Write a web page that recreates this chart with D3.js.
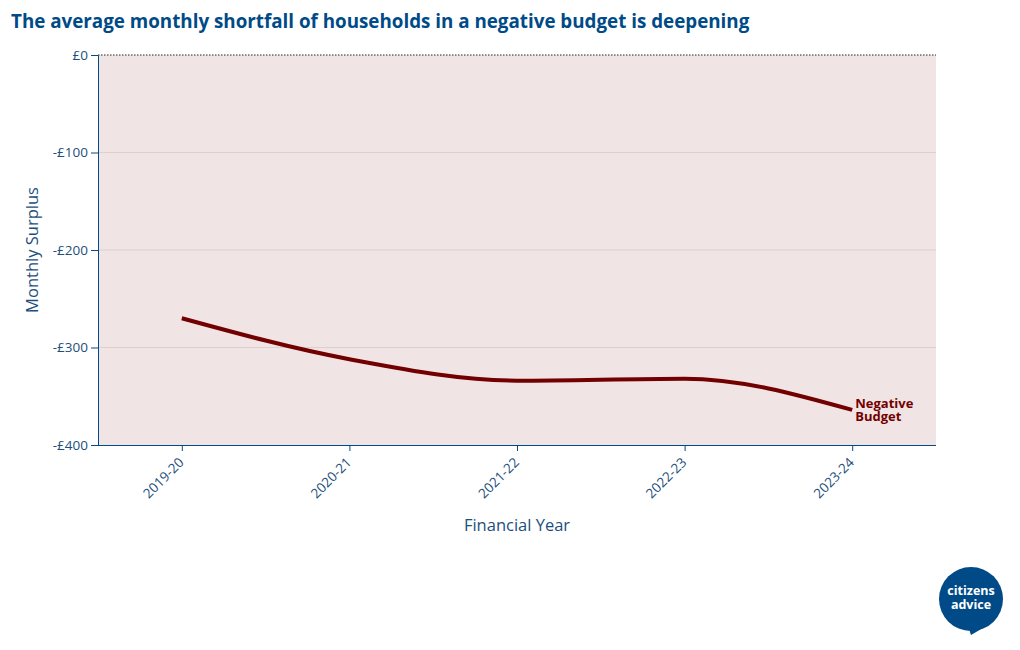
<!DOCTYPE html>
<html><head><meta charset="utf-8">
<script src="https://cdn.jsdelivr.net/npm/d3@7"></script>
<style>body{margin:0;background:#fff;font-family:"Open Sans",sans-serif;}</style>
</head><body>
<svg id="chart" width="1020" height="650"></svg>
<script>
const years = ["2019-20","2020-21","2021-22","2022-23","2023-24"];
const negativeBudget = [-270, -312, -334, -332, -364];
const yTicks = [0, -100, -200, -300, -400];
const seriesName = ["Negative", "Budget"];

const svg = d3.select("#chart");
const m = {l:98, r:936, t:55, b:445};
const blue = "#1d4f7c";
const navy = "#004b87";

const x = d3.scalePoint().domain(years).range([m.l, m.r]).padding(0.5);
const y = d3.scaleLinear().domain([-400, 0]).range([m.b, m.t]);

svg.append("text").attr("x", 11).attr("y", 28)
  .attr("font-size", 18.8).attr("font-weight", 700).attr("fill", navy)
  .text("The average monthly shortfall of households in a negative budget is deepening");

svg.append("rect").attr("x", m.l).attr("y", m.t).attr("width", m.r - m.l).attr("height", m.b - m.t)
  .attr("fill", "#f1e4e5");

// gridlines
svg.append("g").selectAll("line").data(yTicks.filter(d => d !== 0 && d !== -400)).join("line")
  .attr("x1", m.l).attr("x2", m.r).attr("y1", d => y(d)).attr("y2", d => y(d))
  .attr("stroke", "#dccfd0").attr("stroke-width", 1);

// zero line
svg.append("line").attr("x1", m.l).attr("x2", m.r).attr("y1", y(0)).attr("y2", y(0))
  .attr("stroke", "#222").attr("stroke-width", 1).attr("stroke-dasharray", "1.5,1.5");

// y axis
const yAxis = svg.append("g").attr("transform", `translate(${m.l},0)`)
  .call(d3.axisLeft(y).tickValues(yTicks).tickSize(7).tickPadding(3)
    .tickFormat(d => d === 0 ? "£0" : "-£" + Math.abs(d)));
yAxis.select(".domain").attr("stroke", navy);
yAxis.selectAll(".tick line").attr("stroke", navy);
yAxis.selectAll("text").attr("font-family", "Open Sans").attr("font-size", 13.5).attr("fill", blue);

// x axis
const xAxis = svg.append("g").attr("transform", `translate(0,${m.b})`)
  .call(d3.axisBottom(x).tickSize(6).tickPadding(4).tickSizeOuter(0));
xAxis.select(".domain").attr("stroke", navy).attr("d", `M${m.l},0.5H${m.r}`);
xAxis.selectAll(".tick line").attr("stroke", navy);
xAxis.selectAll("text").attr("font-family", "Open Sans").attr("font-size", 13.5).attr("fill", blue)
  .attr("text-anchor", "end").attr("x", 0).attr("y", 0).attr("dy", "0.35em")
  .attr("transform", "translate(-1,15) rotate(-45)");

// axis titles
svg.append("text").attr("x", (m.l + m.r) / 2).attr("y", 531).attr("text-anchor", "middle")
  .attr("font-size", 16.5).attr("fill", blue).text("Financial Year");
svg.append("text").attr("transform", `translate(38,${(m.t + m.b) / 2}) rotate(-90)`)
  .attr("text-anchor", "middle").attr("font-size", 16.5).attr("fill", blue).text("Monthly Surplus");

// line
const line = d3.line().x((d, i) => x(years[i])).y(d => y(d)).curve(d3.curveMonotoneX);
svg.append("path").datum(negativeBudget).attr("d", line)
  .attr("fill", "none").attr("stroke", "#720000").attr("stroke-width", 4);

// label
const last = negativeBudget.length - 1;
seriesName.forEach((s, i) => svg.append("text")
  .attr("x", x(years[last]) + 3).attr("y", y(negativeBudget[last]) - 2 + i * 13)
  .attr("font-size", 13).attr("font-weight", 700).attr("fill", "#720000").text(s));

// logo
const logo = svg.append("g").attr("transform", "translate(971,599)");
logo.append("circle").attr("r", 32).attr("fill", navy);
logo.append("path").attr("d", "M-2,30 L0,36 L12,29 Z").attr("fill", navy);
logo.append("text").attr("y", -4).attr("text-anchor", "middle").attr("font-size", 12.5).attr("font-weight", 700)
  .attr("fill", "#fff").text("citizens");
logo.append("text").attr("y", 10).attr("text-anchor", "middle").attr("font-size", 12.5).attr("font-weight", 700)
  .attr("fill", "#fff").text("advice");
</script>
</body></html>
